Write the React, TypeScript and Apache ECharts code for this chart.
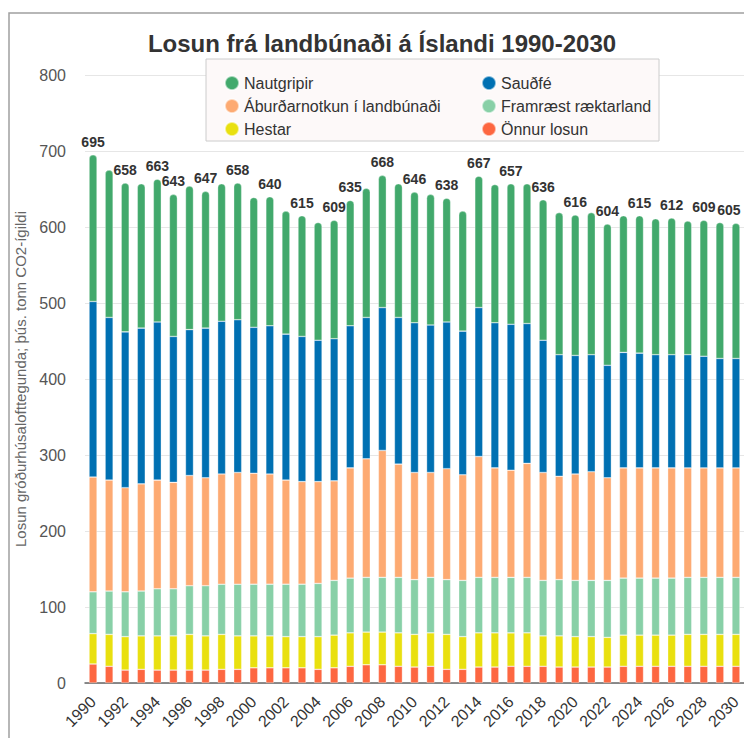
import React, { useEffect, useRef } from "react";
import * as echarts from "echarts";

const years = Array.from({ length: 41 }, (_, i) => String(1990 + i));

const onnurLosun = [25, 22, 17, 18, 17, 17, 17, 17, 18, 18, 20, 20, 20, 20, 18, 20, 22, 24, 24, 22, 21, 22, 18, 18, 21, 21, 22, 22, 22, 21, 21, 21, 21, 22, 22, 22, 22, 22, 22, 22, 22];
const hestar = [40, 42, 44, 44, 45, 45, 47, 45, 46, 44, 42, 42, 41, 41, 43, 43, 44, 43, 43, 44, 43, 44, 46, 43, 45, 45, 44, 44, 40, 41, 40, 40, 39, 41, 41, 41, 41, 42, 42, 42, 42];
const framraest = [55, 57, 59, 59, 62, 62, 64, 66, 66, 68, 68, 68, 69, 69, 70, 72, 72, 72, 72, 73, 72, 73, 72, 74, 73, 73, 73, 73, 73, 74, 74, 74, 75, 75, 75, 75, 75, 75, 75, 75, 75];
const aburdur = [151, 146, 137, 141, 143, 140, 145, 142, 145, 147, 146, 145, 137, 135, 134, 131, 145, 156, 167, 149, 141, 138, 146, 139, 159, 144, 141, 150, 142, 136, 140, 143, 135, 145, 145, 145, 145, 144, 144, 144, 144];
const saudfe = [231, 214, 205, 205, 208, 192, 192, 197, 201, 201, 192, 195, 192, 191, 186, 187, 187, 186, 188, 193, 197, 194, 193, 189, 196, 191, 192, 184, 174, 160, 156, 154, 148, 152, 151, 149, 149, 149, 147, 144, 144];
const nautgripir = [193, 194, 196, 190, 188, 187, 189, 180, 181, 180, 171, 170, 162, 159, 155, 156, 165, 170, 174, 176, 172, 172, 163, 158, 173, 182, 185, 184, 185, 187, 185, 187, 186, 180, 181, 179, 180, 176, 179, 179, 178];

const labelledYears = ["1990", "1992", "1994", "1995", "1997", "1999", "2001", "2003", "2005", "2006", "2008", "2010", "2012", "2014", "2016", "2018", "2020", "2022", "2024", "2026", "2028", "2030"];

const seriesDefs = [
  { name: "Önnur losun", data: onnurLosun, color: "#fd6741" },
  { name: "Hestar", data: hestar, color: "#e9e00f" },
  { name: "Framræst ræktarland", data: framraest, color: "#88d0a7" },
  { name: "Áburðarnotkun í landbúnaði", data: aburdur, color: "#fdaa72" },
  { name: "Sauðfé", data: saudfe, color: "#0070b2" },
  { name: "Nautgripir", data: nautgripir, color: "#42a96c" },
];

const FONT = "'Liberation Sans', Arial, sans-serif";

export default function App() {
  const ref = useRef<HTMLDivElement>(null);
  useEffect(() => {
    if (!ref.current) return;
    const chart = echarts.init(ref.current, undefined, { renderer: "svg" });
    const totals = years.map((_, i) => seriesDefs.reduce((s, d) => s + d.data[i], 0));
    const lastIdx = years.length - 1;
    const series = seriesDefs.map((d, si) => {
      const isTop = si === seriesDefs.length - 1;
      return {
        name: d.name,
        type: "bar",
        stack: "total",
        barWidth: 8,
        itemStyle: {
          color: d.color,
          borderColor: "rgba(255,255,255,0.55)",
          borderWidth: 0.6,
          borderRadius: isTop ? [4, 4, 0, 0] : 0,
        },
        data: isTop
          ? d.data.map((v, i) => ({
              value: v,
              label: {
                show: labelledYears.includes(years[i]),
                offset: i === lastIdx ? [-7, 0] : [0, 0],
              },
            }))
          : d.data,
        label: isTop
          ? {
              show: true,
              position: "top",
              distance: 6,
              fontFamily: FONT,
              fontSize: 14,
              fontWeight: "bold",
              color: "#333",
              formatter: (p: any) => String(totals[p.dataIndex]),
            }
          : { show: false },
      };
    });
    chart.setOption({
      animation: false,
      backgroundColor: "#fff",
      textStyle: { fontFamily: FONT },
      title: {
        text: "Losun frá landbúnaði á Íslandi 1990-2030",
        left: 377,
        textAlign: "center",
        top: 26,
        textStyle: { fontFamily: FONT, fontSize: 24, fontWeight: "bold", color: "#333" },
      },
      graphic: [
        {
          type: "rect",
          shape: { x: 9, y: 13, width: 800, height: 800 },
          style: { fill: "none", stroke: "#a0a0a0", lineWidth: 1.5 },
          z: 0,
        },
        {
          type: "rect",
          shape: { x: 206, y: 59, width: 453, height: 82 },
          style: { fill: "#fdf9f9", stroke: "#cccccc", lineWidth: 1 },
          z: 5,
        },
      ],
      legend: [
        {
          orient: "vertical",
          left: 219,
          top: 70,
          icon: "circle",
          itemWidth: 14,
          itemHeight: 14,
          itemGap: 7,
          z: 10,
          textStyle: { fontFamily: FONT, fontSize: 16, color: "#333", lineHeight: 16 },
          data: ["Nautgripir", "Áburðarnotkun í landbúnaði", "Hestar"],
        },
        {
          orient: "vertical",
          left: 476,
          top: 70,
          icon: "circle",
          itemWidth: 14,
          itemHeight: 14,
          itemGap: 7,
          z: 10,
          textStyle: { fontFamily: FONT, fontSize: 16, color: "#333", lineHeight: 16 },
          data: ["Sauðfé", "Framræst ræktarland", "Önnur losun"],
        },
      ],
      grid: { left: 85, top: 75, width: 661, height: 608, containLabel: false },
      xAxis: {
        type: "category",
        data: years,
        axisTick: { show: false },
        axisLine: { lineStyle: { color: "#666", width: 1.5 } },
        axisLabel: {
          interval: 1,
          rotate: 45,
          fontFamily: FONT,
          fontSize: 16,
          color: "#333",
          margin: 16,
        },
      },
      yAxis: {
        type: "value",
        min: 0,
        max: 800,
        interval: 100,
        name: "Losun gróðurhúsalofttegunda; þús. tonn CO2-ígildi",
        nameLocation: "middle",
        nameGap: 56,
        nameTextStyle: { fontFamily: FONT, fontSize: 15, color: "#666" },
        axisLabel: { fontFamily: FONT, fontSize: 16, color: "#555", margin: 19 },
        splitLine: { lineStyle: { color: "#e6e6e6", width: 1 } },
        axisLine: { show: false },
        axisTick: { show: false },
      },
      series,
    });
    return () => chart.dispose();
  }, []);
  return (
    <div
      ref={ref}
      style={{ position: "absolute", left: 0, top: 0, width: 744, height: 738 }}
    />
  );
}
